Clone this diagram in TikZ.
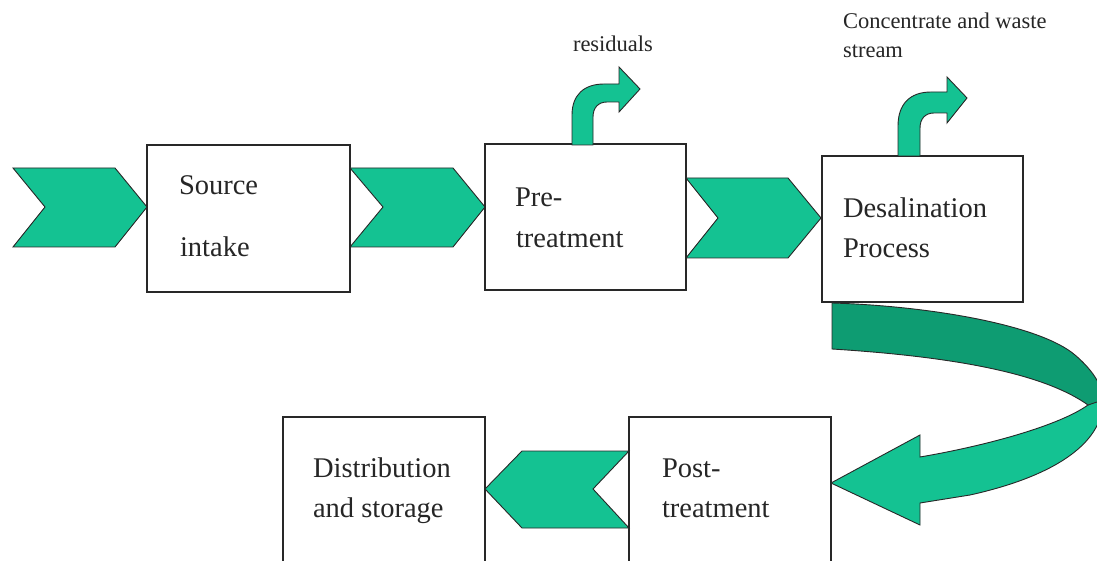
\documentclass[tikz,border=0pt]{standalone}
\usepackage{fontspec}
\setmainfont{Liberation Serif}
\definecolor{sea}{RGB}{20,194,146}
\definecolor{seadark}{RGB}{14,156,114}
\definecolor{edge}{RGB}{40,40,40}
\tikzset{
  stagebox/.style={draw=edge, line width=1.3pt, fill=white, rectangle, inner sep=0pt, outer sep=0pt},
  blockarrow/.style={fill=sea, draw=edge, line width=0.9pt, line join=miter},
  bigtxt/.style={anchor=base west, inner sep=0pt, outer sep=0pt, font=\fontsize{28.5}{34}\selectfont, text=black!85},
  smalltxt/.style={anchor=base west, inner sep=0pt, outer sep=0pt, font=\fontsize{22.5}{26}\selectfont, text=black!85}
}
\begin{document}
\begin{tikzpicture}[x=1pt,y=-1pt]
\useasboundingbox (0,0) rectangle (1097,561);
\clip (0,0) rectangle (1097,561);
\fill[white] (0,0) rectangle (1097,561);

% stage boxes
\node[stagebox, minimum width=203pt, minimum height=147pt] (src) at (248.5,218.5) {};
\node[stagebox, minimum width=201pt, minimum height=146pt] (pre) at (585.5,217) {};
\node[stagebox, minimum width=201pt, minimum height=146pt] (des) at (922.5,229) {};
\node[stagebox, minimum width=202pt, minimum height=158pt] (post) at (730,496) {};
\node[stagebox, minimum width=202pt, minimum height=158pt] (dist) at (384,496) {};

% chevrons
\draw[blockarrow] (13,168) -- (115,168) -- (147,207) -- (115,247) -- (13,247) -- (45,207) -- cycle;
\draw[blockarrow] (350,168) -- (453,168) -- (485,207) -- (453,247) -- (350,247) -- (383,207) -- cycle;
\draw[blockarrow] (686,178) -- (788,178) -- (821,218) -- (788,258) -- (686,258) -- (718,218) -- cycle;
\draw[blockarrow] (629,451) -- (522,451) -- (485,489) -- (522,528) -- (629,528) -- (593,489) -- cycle;

% bent-up arrows
\draw[blockarrow] (572,145) -- (572,115) .. controls (572,95) and (584,84) .. (604,84) -- (619,84)
  -- (619,67) -- (640,89) -- (619,112) -- (619,102) -- (607,102)
  .. controls (598,102) and (593,108) .. (593,117) -- (593,145) -- cycle;
\draw[blockarrow] (898,156) -- (898,126) .. controls (898,104) and (910,92) .. (931,92) -- (947,92)
  -- (947,77) -- (967,98) -- (947,123) -- (947,113) -- (934,113)
  .. controls (925,113) and (920,119) .. (920,128) -- (920,156) -- cycle;

% big U-turn arrow: lower (light) part first, upper (dark) part on top
\draw[blockarrow] (1103,398) .. controls (1105,440) and (1060,475) .. (970,495) -- (920,503)
  -- (920,525) -- (831,483) -- (920,435) -- (920,457)
  .. controls (990,445) and (1060,425) .. (1088,405) -- cycle;
\draw[blockarrow, fill=seadark] (832,303) .. controls (930,306) and (1040,325) .. (1075,355)
  .. controls (1095,372) and (1103,388) .. (1103,400) -- (1088,405)
  .. controls (1050,378) and (975,358) .. (832,349) -- cycle;

% labels
\node[bigtxt] (srcA) at (179,195) {Source};
\node[bigtxt] (srcB) at (180,257) {intake};
\node[bigtxt] (preA) at (515,207) {Pre-};
\node[bigtxt] (preB) at (516,248) {treatment};
\node[bigtxt] (desA) at (843,218) {Desalination};
\node[bigtxt] (desB) at (843,258) {Process};
\node[bigtxt] (distA) at (313,477) {Distribution};
\node[bigtxt] (distB) at (313,517) {and storage};
\node[bigtxt] (postA) at (662,477) {Post-};
\node[bigtxt] (postB) at (662,517) {treatment};
\node[smalltxt] (res) at (573,52) {residuals};
\node[smalltxt] (concA) at (843,29) {Concentrate and waste};
\node[smalltxt] (concB) at (843,58) {stream};
\end{tikzpicture}
\end{document}
